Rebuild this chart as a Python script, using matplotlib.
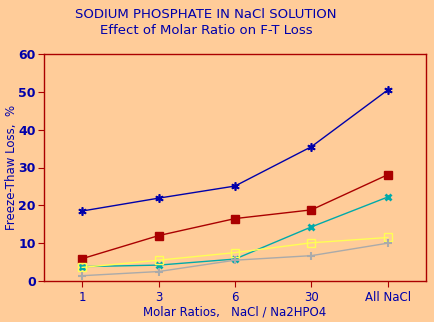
import numpy as np
import matplotlib.pyplot as plt

# molar ratio categories and freeze-thaw losses (%)
ratios = ['1', '3', '6', '30', 'All NaCl']
loss_blue = [18.5, 21.9, 25.1, 35.5, 50.5]
loss_red = [5.9, 12.0, 16.5, 18.8, 28.1]
loss_cyan = [3.8, 4.2, 5.8, 14.3, 22.2]
loss_yellow = [3.6, 5.5, 7.5, 10.1, 11.5]
loss_gray = [1.4, 2.5, 5.5, 6.7, 10.0]

bg = '#FFCC99'
navy = '#0000AA'
maroon = '#AA0000'

fig = plt.figure(figsize=(4.34, 3.22), dpi=100, facecolor=bg)
ax = fig.add_axes([44/434, 41/322, 382/434, 227/322], facecolor=bg)

x = np.arange(len(ratios))
ax.plot(x, loss_blue, color=navy, lw=1, marker=(6, 2, 0), ms=6, mew=1.2)
ax.plot(x, loss_red, color=maroon, lw=1, marker='s', ms=5.5)
ax.plot(x, loss_cyan, color='#00AAAA', lw=1, marker='x', ms=5, mew=2)
ax.plot(x, loss_yellow, color='#FFFF55', lw=1, marker='s', ms=6, mfc='none', mew=1)
ax.plot(x, loss_gray, color='#AAAAAA', lw=1, marker='+', ms=6, mew=1.5)

ax.set_xlim(-0.5, 4.5)
ax.set_ylim(0, 60)
ax.set_xticks(x)
ax.set_xticklabels(ratios)
ax.set_yticks(np.arange(0, 61, 10))

for s in ax.spines.values():
    s.set_color(maroon)
    s.set_linewidth(1)

ax.tick_params(axis='x', colors=maroon, labelcolor=navy, length=4, labelsize=8.5)
ax.tick_params(axis='y', colors=maroon, labelcolor=navy, length=4, pad=2, labelsize=9)
for lbl in ax.get_yticklabels():
    lbl.set_fontweight('bold')

ax.set_xlabel('Molar Ratios,   NaCl / Na2HPO4', color=navy, fontsize=8.5, labelpad=1)
ax.set_ylabel('Freeze-Thaw Loss,  %', color=navy, fontsize=8.5)
ax.yaxis.set_label_coords(-26/382, 0.5)

fig.text(0.475, 1 - 14.5/322, 'SODIUM PHOSPHATE IN NaCl SOLUTION', color=navy,
         fontsize=9.5, ha='center', va='center')
fig.text(0.475, 1 - 30/322, 'Effect of Molar Ratio on F-T Loss', color=navy,
         fontsize=9.5, ha='center', va='center')

fig.savefig('out.png', dpi=100, facecolor=bg)
